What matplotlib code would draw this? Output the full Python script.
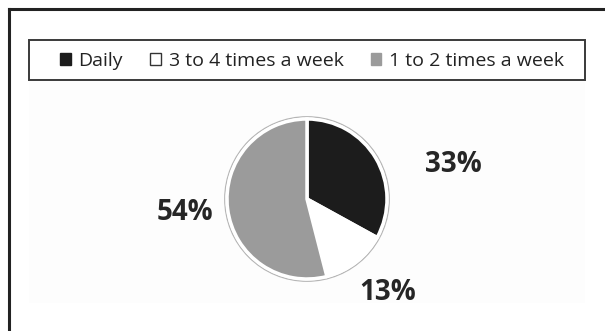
import matplotlib
matplotlib.use("Agg")
import matplotlib.pyplot as plt
from matplotlib.patches import Patch, Rectangle, Circle
from matplotlib.lines import Line2D

# Data
categories = ["Daily", "3 to 4 times a week", "1 to 2 times a week"]
shares = [33, 13, 54]
colors = ["#1c1c1c", "#ffffff", "#9b9b9b"]
legend_edges = ["#1c1c1c", "#333333", "#9b9b9b"]

W, H = 605, 331
fig = plt.figure(figsize=(W / 100, H / 100), dpi=100)
fig.patch.set_facecolor("white")

# Axes in pixel units (y measured upward from the bottom)
ax = fig.add_axes([0, 0, 1, 1])

cx, cy, r = 307, H - 199, 80
wedges, _ = ax.pie(
    shares,
    colors=colors,
    startangle=90,
    counterclock=False,
    center=(cx, cy),
    radius=r,
    wedgeprops=dict(edgecolor="white", linewidth=2.5),
)
for w in wedges:
    w.set_zorder(3)
# thin grey rim around the pie
ax.add_patch(Circle((cx, cy), r + 2.2, facecolor="none", edgecolor="#b5b5b5",
                    linewidth=1.0, zorder=2))
ax.set_xlim(0, W)
ax.set_ylim(0, H)
ax.set_aspect("auto")
ax.axis("off")

# faint plot-area background
ax.add_patch(Rectangle((29, H - 303), 556, 223, facecolor="#fdfdfd",
                       edgecolor="none", zorder=0))

# percentage labels
label_pos = [(453, 165), (388, 292), (185, 212)]
for v, (x, y) in zip(shares, label_pos):
    ax.text(x, H - y, f"{v}%", ha="center", va="center", fontsize=20,
            fontweight="bold", family="Open Sans", color="#262626", zorder=4)

# outer frame (left and top edges)
fig.add_artist(Line2D([9 / W, 9 / W], [0, 1 - 9 / H], transform=fig.transFigure,
                      color="#222222", linewidth=2.2))
fig.add_artist(Line2D([9 / W, 1], [1 - 9 / H, 1 - 9 / H], transform=fig.transFigure,
                      color="#222222", linewidth=2.2))

# legend box
ax.add_patch(Rectangle((29, H - 80), 556, 40, facecolor="white",
                       edgecolor="#3a3a3a", linewidth=1.4, zorder=1))
handles = [Patch(facecolor=c, edgecolor=e, linewidth=1.0)
           for c, e in zip(colors, legend_edges)]
leg = fig.legend(handles, categories, loc="center", ncol=3,
                 bbox_to_anchor=(312 / W, 1 - 61 / H), frameon=False,
                 prop=dict(family="Open Sans", size=14), labelcolor="#222222",
                 handlelength=0.55, handleheight=0.55, handletextpad=0.4,
                 columnspacing=1.4)

fig.savefig("out.png", dpi=100)
